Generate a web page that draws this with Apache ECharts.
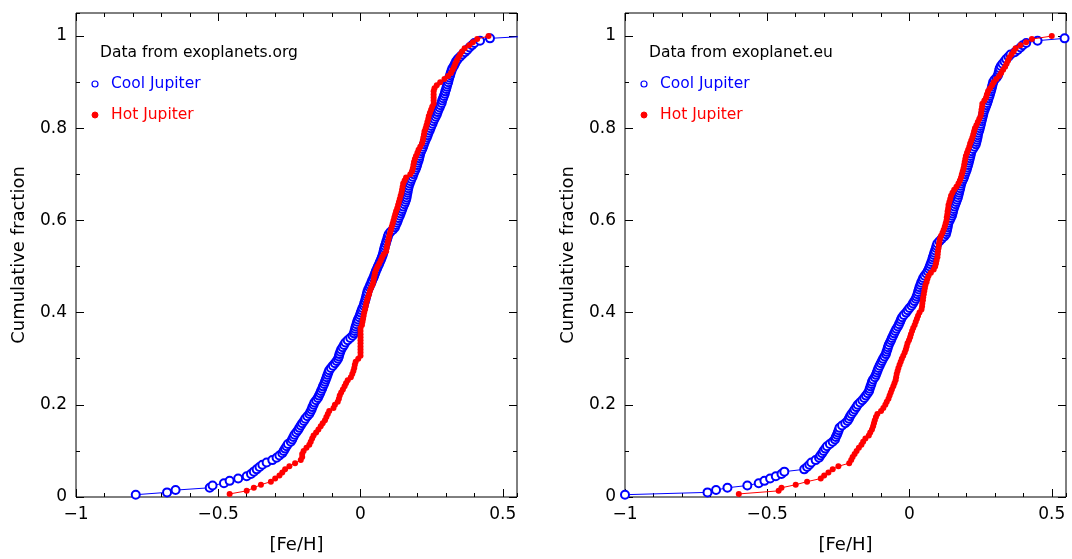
<!DOCTYPE html>
<html>
<head>
<meta charset="utf-8">
<script src="https://cdn.jsdelivr.net/npm/echarts@6/dist/echarts.min.js"></script>
<style>
html,body{margin:0;padding:0;background:#fff;}
#chart{width:1072px;height:559px;}
</style>
</head>
<body>
<div id="chart"></div>
<script>
// [Fe/H] values (sorted) of each sample.
// The plotted y value is the cumulative fraction: rank / sample size.
const panelTitles = ['Data from exoplanets.org', 'Data from exoplanet.eu'];
const seriesNames = ['Cool Jupiter', 'Hot Jupiter'];
const xTickLabels = [-1, -0.5, 0, 0.5];
const yTickLabels = [0, 0.2, 0.4, 0.6, 0.8, 1];

const coolOrg = [
 -0.79,-0.68,-0.65,-0.53,-0.52,-0.48,-0.46,-0.43,-0.40,-0.385,-0.375,-0.365,-0.355,-0.345,-0.33,-0.31,-0.295,-0.285,-0.275,-0.27,
 -0.265,-0.26,-0.255,-0.245,-0.24,-0.236,-0.232,-0.226,-0.22,-0.215,-0.21,-0.205,-0.199,-0.194,-0.187,-0.18,-0.176,-0.172,-0.169,-0.165,
 -0.162,-0.156,-0.15,-0.146,-0.142,-0.139,-0.135,-0.132,-0.128,-0.125,-0.122,-0.119,-0.116,-0.113,-0.11,-0.104,-0.097,-0.09,-0.084,-0.079,
 -0.076,-0.074,-0.071,-0.068,-0.063,-0.058,-0.053,-0.045,-0.036,-0.028,-0.023,-0.021,-0.019,-0.017,-0.014,-0.012,-0.009,-0.005,-0.002,0.001,
 0.004,0.007,0.011,0.013,0.016,0.018,0.02,0.022,0.024,0.027,0.031,0.034,0.038,0.041,0.045,0.048,0.051,0.054,0.058,0.061,
 0.065,0.068,0.072,0.075,0.078,0.08,0.082,0.084,0.086,0.089,0.091,0.094,0.096,0.099,0.105,0.114,0.121,0.124,0.128,0.131,
 0.134,0.138,0.141,0.144,0.147,0.15,0.154,0.157,0.16,0.162,0.163,0.165,0.166,0.168,0.17,0.173,0.176,0.179,0.183,0.186,
 0.189,0.193,0.196,0.199,0.201,0.204,0.206,0.208,0.21,0.213,0.217,0.22,0.223,0.226,0.229,0.233,0.236,0.239,0.243,0.246,
 0.249,0.253,0.256,0.26,0.264,0.268,0.271,0.274,0.278,0.281,0.285,0.287,0.29,0.293,0.296,0.298,0.301,0.303,0.305,0.308,
 0.31,0.312,0.315,0.317,0.32,0.323,0.328,0.332,0.336,0.342,0.35,0.358,0.367,0.375,0.383,0.392,0.40,0.42,0.455,0.60
];

const hotOrg = [
 -0.46,-0.40,-0.375,-0.35,-0.315,-0.30,-0.285,-0.275,-0.265,-0.25,-0.23,-0.21,-0.205,-0.205,-0.20,-0.19,-0.18,-0.175,-0.17,-0.165,
 -0.156,-0.148,-0.14,-0.133,-0.125,-0.12,-0.115,-0.11,-0.095,-0.09,-0.08,-0.076,-0.073,-0.068,-0.062,-0.056,-0.051,-0.045,-0.034,-0.029,
 -0.025,-0.022,-0.02,-0.017,-0.008,0.0,0.0,0.0,0.0,0.0,0.0,0.0,0.0,0.0,0.0,0.005,0.007,0.009,0.011,0.013,
 0.016,0.018,0.02,0.023,0.026,0.03,0.033,0.037,0.042,0.045,0.047,0.049,0.051,0.055,0.06,0.066,0.071,0.076,0.082,0.09,
 0.092,0.094,0.096,0.099,0.101,0.104,0.107,0.11,0.113,0.116,0.119,0.122,0.125,0.129,0.132,0.135,0.138,0.141,0.144,0.146,
 0.148,0.15,0.155,0.16,0.175,0.181,0.184,0.186,0.188,0.191,0.195,0.2,0.204,0.21,0.216,0.219,0.221,0.223,0.225,0.229,
 0.232,0.235,0.238,0.24,0.244,0.248,0.252,0.257,0.257,0.257,0.257,0.257,0.26,0.268,0.28,0.295,0.308,0.318,0.324,0.329,
 0.333,0.338,0.344,0.35,0.357,0.366,0.382,0.395,0.41,0.45
];

const coolEu = [
 -1.0,-0.71,-0.68,-0.64,-0.57,-0.53,-0.51,-0.49,-0.47,-0.45,-0.44,-0.37,-0.36,-0.352,-0.345,-0.33,-0.318,-0.313,-0.307,-0.302,
 -0.296,-0.29,-0.28,-0.27,-0.262,-0.259,-0.255,-0.252,-0.249,-0.246,-0.237,-0.226,-0.218,-0.213,-0.209,-0.204,-0.198,-0.193,-0.187,-0.182,
 -0.174,-0.166,-0.159,-0.153,-0.147,-0.142,-0.14,-0.137,-0.134,-0.132,-0.128,-0.122,-0.118,-0.115,-0.112,-0.109,-0.105,-0.101,-0.097,-0.093,
 -0.088,-0.083,-0.081,-0.078,-0.076,-0.073,-0.069,-0.065,-0.062,-0.058,-0.054,-0.05,-0.046,-0.041,-0.037,-0.033,-0.03,-0.026,-0.02,-0.012,
 -0.006,0.0,0.007,0.012,0.017,0.022,0.025,0.028,0.03,0.033,0.035,0.038,0.041,0.045,0.048,0.053,0.059,0.064,0.068,0.071,
 0.074,0.077,0.08,0.082,0.085,0.087,0.09,0.093,0.095,0.098,0.105,0.113,0.122,0.128,0.13,0.132,0.134,0.135,0.137,0.141,
 0.145,0.149,0.151,0.153,0.155,0.158,0.161,0.164,0.167,0.17,0.172,0.174,0.176,0.178,0.18,0.182,0.185,0.189,0.192,0.195,
 0.198,0.201,0.203,0.206,0.208,0.21,0.212,0.214,0.216,0.218,0.223,0.228,0.233,0.235,0.237,0.239,0.24,0.242,0.245,0.247,
 0.249,0.251,0.253,0.255,0.257,0.259,0.261,0.264,0.267,0.27,0.273,0.276,0.278,0.281,0.283,0.286,0.288,0.29,0.292,0.294,
 0.299,0.306,0.311,0.313,0.315,0.317,0.321,0.327,0.334,0.34,0.348,0.355,0.37,0.38,0.39,0.398,0.41,0.45,0.545,0.62
];

const hotEu = [
 -0.60,-0.46,-0.45,-0.40,-0.36,-0.312,-0.30,-0.285,-0.27,-0.25,-0.212,-0.205,-0.2,-0.193,-0.186,-0.178,-0.169,-0.163,-0.155,-0.143,
 -0.138,-0.132,-0.128,-0.125,-0.122,-0.118,-0.113,-0.1,-0.092,-0.085,-0.08,-0.074,-0.07,-0.066,-0.062,-0.057,-0.053,-0.049,-0.047,-0.045,
 -0.042,-0.039,-0.035,-0.031,-0.027,-0.022,-0.017,-0.013,-0.01,-0.007,-0.002,0.002,0.005,0.009,0.013,0.018,0.022,0.026,0.03,0.035,
 0.042,0.044,0.045,0.047,0.048,0.05,0.052,0.054,0.056,0.06,0.063,0.067,0.075,0.085,0.09,0.093,0.095,0.098,0.099,0.1,
 0.102,0.103,0.105,0.107,0.111,0.116,0.12,0.124,0.127,0.13,0.131,0.133,0.134,0.136,0.137,0.14,0.143,0.146,0.151,0.157,
 0.165,0.172,0.177,0.181,0.184,0.187,0.19,0.192,0.194,0.196,0.198,0.202,0.206,0.21,0.213,0.217,0.221,0.224,0.227,0.23,
 0.235,0.24,0.245,0.25,0.252,0.253,0.255,0.256,0.263,0.269,0.272,0.276,0.283,0.29,0.296,0.305,0.315,0.322,0.329,0.336,
 0.341,0.346,0.351,0.358,0.366,0.373,0.39,0.41,0.43,0.50
];

const samples = [[coolOrg, hotOrg], [coolEu, hotEu]];
const BLUE = '#0000ff', RED = '#ff0000';
const FONT = 'DejaVu Sans';

function cumulative(vals) {
  return vals.map((v, i) => [v, (i + 1) / vals.length]);
}

const grids = [], xAxes = [], yAxes = [], series = [], graphics = [];
const gridLefts = [76, 625];
const noLine = {show: false, onZero: false};

gridLefts.forEach((gl, p) => {
  grids.push({left: gl, top: 13, width: 441, height: 485, show: true,
              borderColor: '#000', borderWidth: 1, backgroundColor: 'transparent'});
  const base = 4 * p;
  const tickStyle = {color: '#000', width: 1};
  // x axes: bottom major (labels), bottom minor, top major, top minor
  xAxes.push({gridIndex: p, type: 'value', min: -1, max: 0.55, interval: 0.5, position: 'bottom',
    axisLine: noLine, splitLine: {show: false},
    axisTick: {inside: true, length: 8, lineStyle: tickStyle},
    axisLabel: {showMaxLabel: false, margin: 9, fontSize: 17, color: '#000', fontFamily: FONT,
      formatter: v => xTickLabels.includes(v) ? String(v).replace('-', '\u2212') : ''},
    name: '[Fe/H]', nameLocation: 'middle', nameGap: 39,
    nameTextStyle: {fontSize: 18, color: '#000', fontFamily: FONT}});
  xAxes.push({gridIndex: p, type: 'value', min: -1, max: 0.55, interval: 0.1, position: 'bottom',
    axisLine: noLine, splitLine: {show: false}, axisLabel: {show: false},
    axisTick: {inside: true, length: 4, lineStyle: tickStyle}});
  xAxes.push({gridIndex: p, type: 'value', min: -1, max: 0.55, interval: 0.5, position: 'top',
    axisLine: noLine, splitLine: {show: false}, axisLabel: {show: false},
    axisTick: {inside: true, length: 8, lineStyle: tickStyle}});
  xAxes.push({gridIndex: p, type: 'value', min: -1, max: 0.55, interval: 0.1, position: 'top',
    axisLine: noLine, splitLine: {show: false}, axisLabel: {show: false},
    axisTick: {inside: true, length: 4, lineStyle: tickStyle}});
  // y axes: left major (labels), left minor, right major, right minor
  yAxes.push({gridIndex: p, type: 'value', min: 0, max: 1.05, interval: 0.2, position: 'left',
    axisLine: noLine, splitLine: {show: false},
    axisTick: {inside: true, length: 8, lineStyle: tickStyle},
    axisLabel: {showMaxLabel: false, margin: 9, fontSize: 17, color: '#000', fontFamily: FONT,
      formatter: v => yTickLabels.some(t => Math.abs(t - v) < 1e-9) ? String(Math.round(v * 10) / 10) : ''},
    name: 'Cumulative fraction', nameLocation: 'middle', nameGap: 48,
    nameTextStyle: {fontSize: 18, color: '#000', fontFamily: FONT}});
  yAxes.push({gridIndex: p, type: 'value', min: 0, max: 1.05, interval: 0.1, position: 'left',
    axisLine: noLine, splitLine: {show: false}, axisLabel: {show: false},
    axisTick: {inside: true, length: 4, lineStyle: tickStyle}});
  yAxes.push({gridIndex: p, type: 'value', min: 0, max: 1.05, interval: 0.2, position: 'right',
    axisLine: noLine, splitLine: {show: false}, axisLabel: {show: false},
    axisTick: {inside: true, length: 8, lineStyle: tickStyle}});
  yAxes.push({gridIndex: p, type: 'value', min: 0, max: 1.05, interval: 0.1, position: 'right',
    axisLine: noLine, splitLine: {show: false}, axisLabel: {show: false},
    axisTick: {inside: true, length: 4, lineStyle: tickStyle}});

  series.push({type: 'line', name: seriesNames[0], xAxisIndex: base, yAxisIndex: base,
    data: cumulative(samples[p][0]), symbol: 'emptyCircle', symbolSize: 8,
    lineStyle: {color: BLUE, width: 1},
    itemStyle: {color: BLUE, borderColor: BLUE, borderWidth: 1},
    emphasis: {disabled: true}, animation: false, clip: true, z: 2});
  series.push({type: 'line', name: seriesNames[1], xAxisIndex: base, yAxisIndex: base,
    data: cumulative(samples[p][1]), symbol: 'circle', symbolSize: 6,
    lineStyle: {color: RED, width: 1},
    itemStyle: {color: RED},
    emphasis: {disabled: true}, animation: false, clip: true, z: 3});

  const ox = gl - 76;
  graphics.push({type: 'text', left: 100 + ox, top: 45,
    style: {text: panelTitles[p], fontSize: 15.5, fontFamily: FONT, fill: '#000'}});
  graphics.push({type: 'circle', shape: {cx: 95 + ox, cy: 84, r: 3},
    style: {fill: '#fff', stroke: BLUE, lineWidth: 1.2}});
  graphics.push({type: 'text', left: 111 + ox, top: 76,
    style: {text: seriesNames[0], fontSize: 15.5, fontFamily: FONT, fill: BLUE}});
  graphics.push({type: 'circle', shape: {cx: 95 + ox, cy: 115, r: 3},
    style: {fill: RED, stroke: RED, lineWidth: 1}});
  graphics.push({type: 'text', left: 111 + ox, top: 107,
    style: {text: seriesNames[1], fontSize: 15.5, fontFamily: FONT, fill: RED}});
});

const chart = echarts.init(document.getElementById('chart'), null, {renderer: 'canvas'});
chart.setOption({
  animation: false,
  backgroundColor: '#fff',
  grid: grids,
  xAxis: xAxes,
  yAxis: yAxes,
  series: series,
  graphic: graphics
});
</script>
</body>
</html>
